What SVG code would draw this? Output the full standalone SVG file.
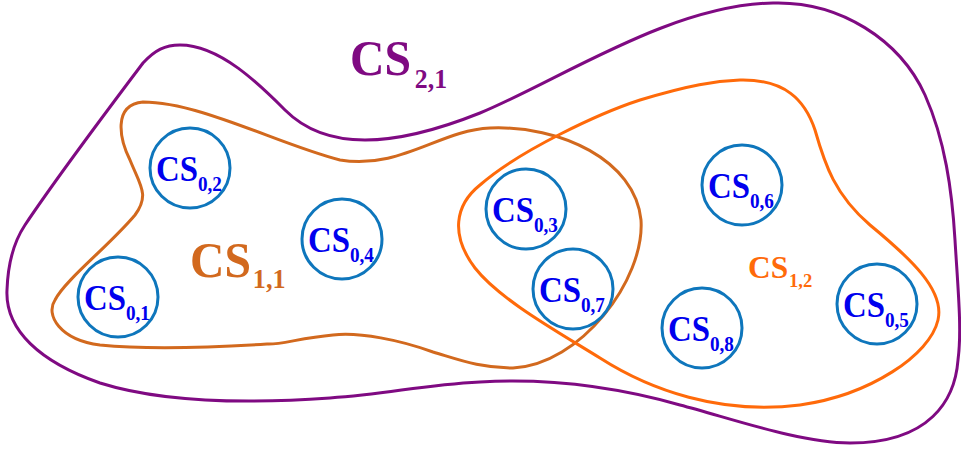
<svg xmlns="http://www.w3.org/2000/svg" width="961" height="449" viewBox="0 0 961 449">
<style>
text{font-family:"Liberation Serif","Times New Roman",serif;font-weight:bold}
.set{fill:none;stroke-width:3}
.c0{fill:none;stroke:#0E76BC;stroke-width:3}
.t0{fill:#0000EE;font-size:36px}
.s0{font-size:21px}
</style>
<rect width="961" height="449" fill="#fff"/>
<g id="CS21">
<path class="set" stroke="#7F0A82" d="M 180 45 C 220 45, 260 85, 285 110 C 305 130, 330 140, 365 140 C 405 140, 445 127, 480 113 C 560 80, 670 5, 773 3 C 840 1, 900 40, 925 95 C 945 140, 952 190, 955 240 C 958 290, 962 330, 958 360 C 955 400, 930 443, 850 443 C 800 443, 730 418, 680 405 C 620 388, 550 378, 480 382 C 420 385, 390 394, 330 398 C 260 403, 170 405, 100 383 C 40 362, 5 330, 7 290 C 8 260, 15 240, 25 225 C 55 180, 100 120, 143 63 C 155 50, 165 45, 180 45 Z"/>
<text transform="translate(350,75) scale(0.955,1)" fill="#7F0A82" font-size="50">CS<tspan font-size="27" dx="4" dy="13">2,1</tspan></text>
</g>
<g id="CS11">
<path class="set" stroke="#D2691E" d="M 143 102 C 200 102, 280 145, 340 160 C 400 170, 440 130, 490 128 C 560 125, 635 160, 641 220 C 645 280, 580 365, 513 368 C 480 368, 460 360, 433 352 C 400 340, 360 332, 333 335 C 300 338, 280 345, 267 344 C 220 347, 150 350, 100 345 C 60 340, 45 315, 55 300 C 65 280, 110 245, 135 215 C 150 195, 140 185, 130 160 C 120 140, 112 105, 143 102 Z"/>
<text transform="translate(190,277) scale(0.935,1)" fill="#D2691E" font-size="51">CS<tspan font-size="28" dx="2" dy="11">1,1</tspan></text>
</g>
<g id="CS12">
<path class="set" stroke="#FF6A0A" d="M 740 80 C 785 79, 805 100, 815 130 C 825 165, 835 195, 870 225 C 910 258, 945 290, 938 320 C 930 355, 870 395, 800 405 C 720 415, 650 390, 600 358 C 560 333, 500 300, 475 268 C 450 235, 455 205, 480 185 C 520 150, 600 113, 640 100 C 690 85, 715 81, 740 80 Z"/>
<text transform="translate(748,278) scale(0.98,1)" fill="#FF6A0A" font-size="32">CS<tspan font-size="19" dx="1" dy="9">1,2</tspan></text>
</g>
<g id="CS01"><circle class="c0" cx="118" cy="297" r="40"/><text class="t0" transform="translate(84,310) scale(0.913,1)">CS<tspan class="s0" dy="10">0,1</tspan></text></g>
<g id="CS02"><circle class="c0" cx="190" cy="168" r="40"/><text class="t0" transform="translate(156,181) scale(0.913,1)">CS<tspan class="s0" dy="10">0,2</tspan></text></g>
<g id="CS03"><circle class="c0" cx="526" cy="209" r="40"/><text class="t0" transform="translate(492,222) scale(0.913,1)">CS<tspan class="s0" dy="10">0,3</tspan></text></g>
<g id="CS04"><circle class="c0" cx="342" cy="239" r="40"/><text class="t0" transform="translate(308,252) scale(0.913,1)">CS<tspan class="s0" dy="10">0,4</tspan></text></g>
<g id="CS05"><circle class="c0" cx="877" cy="304" r="40"/><text class="t0" transform="translate(843,317) scale(0.913,1)">CS<tspan class="s0" dy="10">0,5</tspan></text></g>
<g id="CS06"><circle class="c0" cx="742" cy="185" r="40"/><text class="t0" transform="translate(708,198) scale(0.913,1)">CS<tspan class="s0" dy="10">0,6</tspan></text></g>
<g id="CS07"><circle class="c0" cx="573" cy="289" r="40"/><text class="t0" transform="translate(539,302) scale(0.913,1)">CS<tspan class="s0" dy="10">0,7</tspan></text></g>
<g id="CS08"><circle class="c0" cx="702" cy="328" r="40"/><text class="t0" transform="translate(668,341) scale(0.913,1)">CS<tspan class="s0" dy="10">0,8</tspan></text></g>
<g id="connectors"></g>
</svg>
